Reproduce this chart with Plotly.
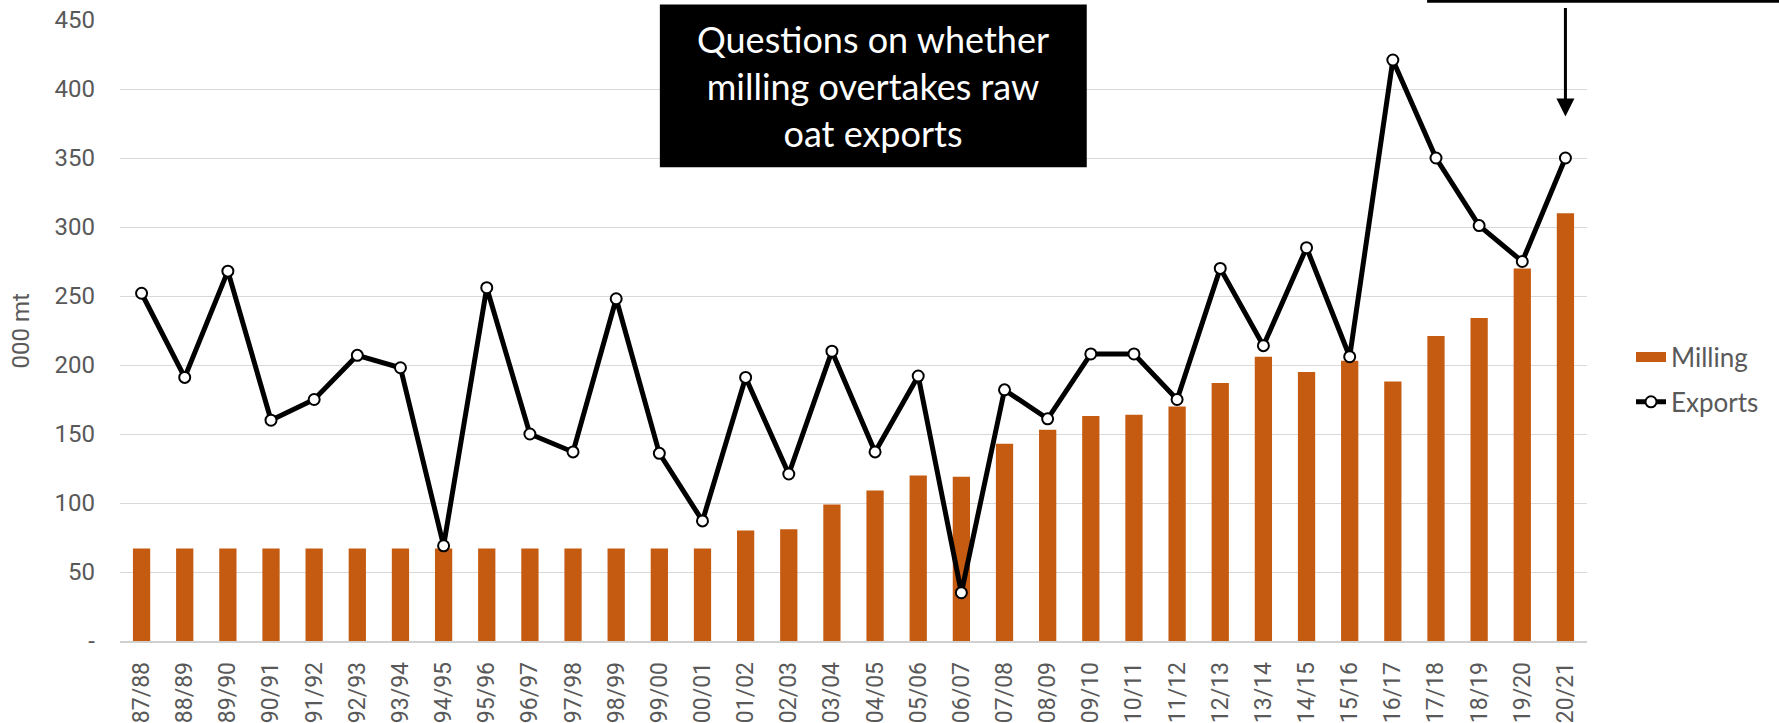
import plotly.graph_objects as go

# Crop seasons
seasons = ["87/88", "88/89", "89/90", "90/91", "91/92", "92/93", "93/94", "94/95",
           "95/96", "96/97", "97/98", "98/99", "99/00", "00/01", "01/02", "02/03",
           "03/04", "04/05", "05/06", "06/07", "07/08", "08/09", "09/10", "10/11",
           "11/12", "12/13", "13/14", "14/15", "15/16", "16/17", "17/18", "18/19",
           "19/20", "20/21"]

# Oat milling volumes, 000 mt
milling = [67, 67, 67, 67, 67, 67, 67, 67, 67, 67, 67, 67, 67, 67, 80, 81,
           99, 109, 120, 119, 143, 153, 163, 164, 170, 187, 206, 195, 203, 188,
           221, 234, 270, 310]

# Raw oat exports, 000 mt
exports = [252, 191, 268, 160, 175, 207, 198, 69, 256, 150, 137, 248, 136, 87,
           191, 121, 210, 137, 192, 35, 182, 161, 208, 208, 175, 270, 214, 285,
           206, 421, 350, 301, 275, 350]

y_ticks = [0, 50, 100, 150, 200, 250, 300, 350, 400, 450]
y_tick_text = ["-", "50", "100", "150", "200", "250", "300", "350", "400", "450"]

GREY_TEXT = "#595959"
ORANGE = "#C55A11"
TICK_FONT = "Roboto, sans-serif"
LABEL_FONT = "Lato, Open Sans, sans-serif"

fig = go.Figure()

fig.add_trace(go.Bar(
    x=seasons, y=milling, name="Milling",
    marker=dict(color=ORANGE, line=dict(width=0)),
    width=0.4, showlegend=False,
))

# Legend entry for the bars, drawn as a wide swatch
fig.add_trace(go.Scatter(
    x=[None], y=[None], name="Milling", mode="lines",
    line=dict(color=ORANGE, width=14), legendgroup="milling",
))

fig.add_trace(go.Scatter(
    x=seasons, y=exports, name="Exports",
    mode="lines+markers", legendgroup="exports",
    line=dict(color="black", width=5),
    marker=dict(symbol="circle", size=11, color="white",
                line=dict(color="black", width=2)),
))

# Callout box
fig.add_shape(type="rect", xref="paper", yref="paper",
              x0=0.368, x1=0.659, y0=0.763, y1=1.025,
              fillcolor="black", line=dict(width=0), layer="above")
fig.add_annotation(xref="paper", yref="paper", x=0.5135, y=0.894,
                   xanchor="center", yanchor="middle",
                   text="Questions on whether<br>milling overtakes raw<br>oat exports",
                   showarrow=False, align="center",
                   font=dict(family=LABEL_FONT, size=36, color="white"))

# Top-right rule and pointer arrow
fig.add_shape(type="line", xref="paper", yref="paper",
              x0=0.891, x1=1.14, y0=1.03, y1=1.03,
              line=dict(color="black", width=3))
fig.add_annotation(x="20/21", y=380, xref="x", yref="y",
                   ax=0, ay=-110, axref="pixel", ayref="pixel",
                   text="", showarrow=True, arrowhead=2, arrowsize=1.2,
                   arrowwidth=3, arrowcolor="black")

# Y-axis title
fig.add_annotation(xref="paper", yref="paper", x=-0.0675, y=0.5,
                   xanchor="center", yanchor="middle", textangle=-90,
                   text="000 mt", showarrow=False,
                   font=dict(family=TICK_FONT, size=24, color=GREY_TEXT))

fig.update_layout(
    width=1779, height=723,
    margin=dict(l=120, r=192, t=20, b=82),
    paper_bgcolor="white", plot_bgcolor="white",
    showlegend=True,
    legend=dict(x=1.03, y=0.495, xanchor="left", yanchor="top",
                font=dict(family=LABEL_FONT, size=26, color=GREY_TEXT),
                tracegroupgap=8, bgcolor="rgba(0,0,0,0)"),
    font=dict(family=TICK_FONT, color=GREY_TEXT),
)

fig.update_xaxes(
    type="category", range=[-0.5, len(seasons) - 0.5], tickangle=-90,
    tickfont=dict(family=TICK_FONT, size=23, color=GREY_TEXT),
    showgrid=False, showline=True, linecolor="#d0d0d0", linewidth=1.5,
    ticks="", automargin=False, ticklabelstandoff=10,
)
fig.update_yaxes(
    range=[0, 450], tickvals=y_ticks, ticktext=y_tick_text,
    tickfont=dict(family=TICK_FONT, size=24, color=GREY_TEXT),
    showgrid=True, gridcolor="#d9d9d9", gridwidth=1,
    zeroline=False, showline=False, ticks="", automargin=False,
    ticklabelstandoff=24,
)

fig.write_html("out.html")
